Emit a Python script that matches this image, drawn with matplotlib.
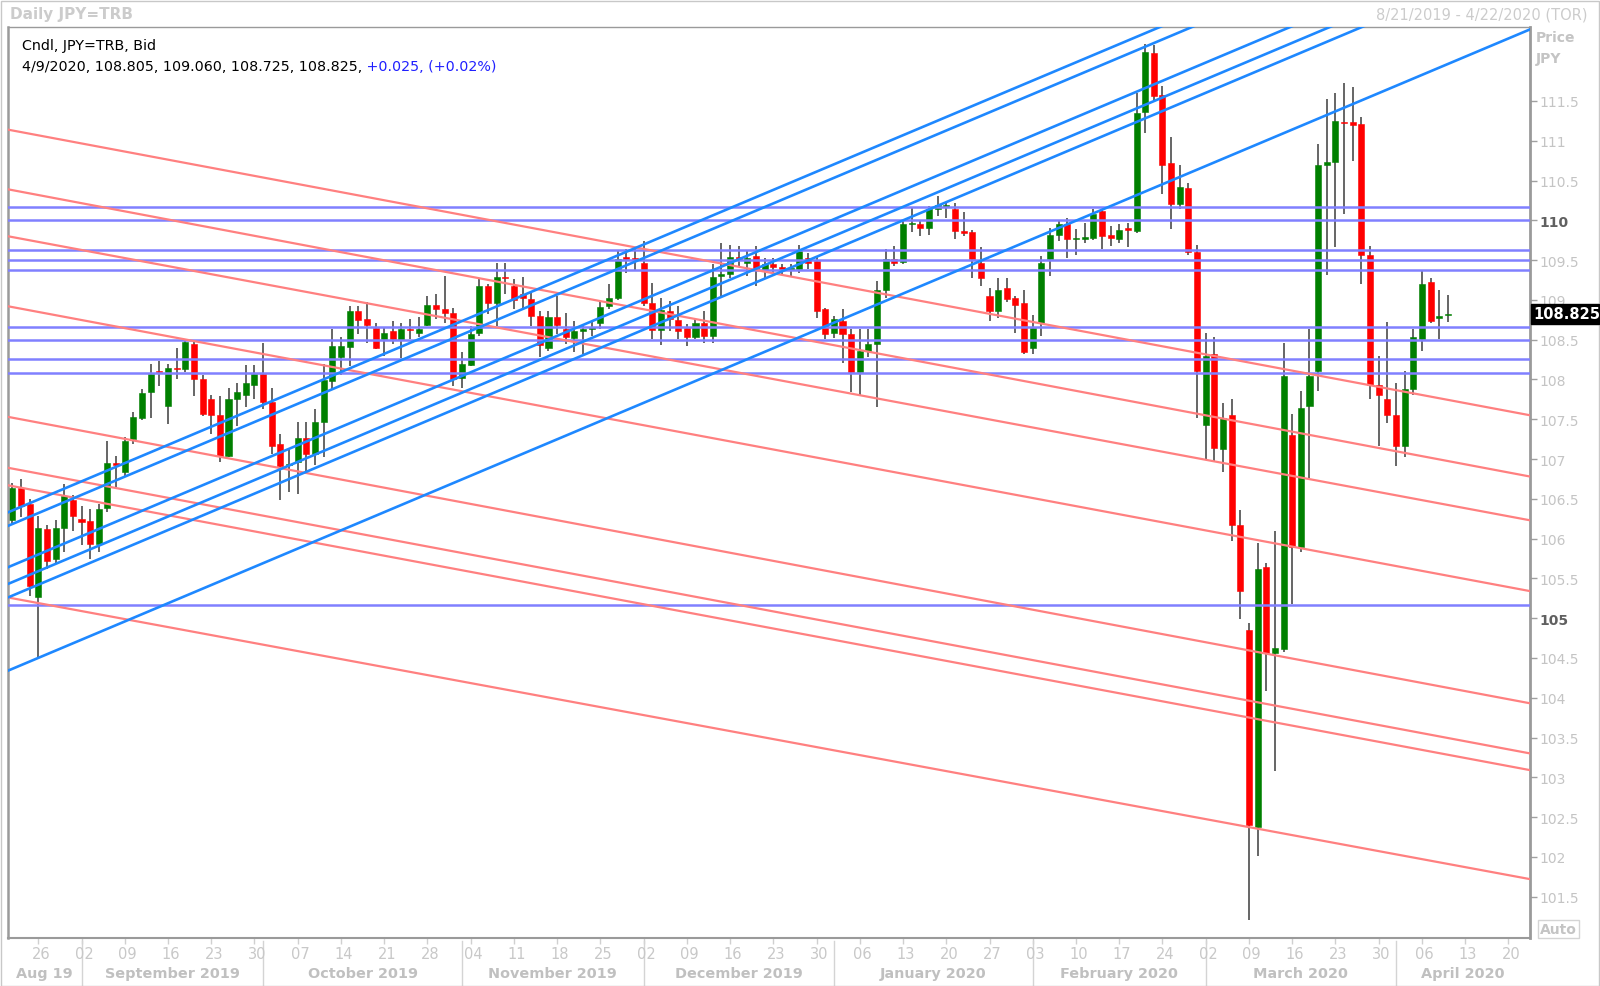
import numpy as np
import pandas as pd
import matplotlib
matplotlib.use("Agg")
import matplotlib.pyplot as plt
from matplotlib.patches import Rectangle
import matplotlib.transforms as mtrans

plt.rcParams['font.family'] = ['DejaVu Sans']

# ---- daily candles, JPY=TRB bid ----
dates = pd.bdate_range("2019-08-21", "2020-04-09")
o = [106.23, 106.63, 106.43, 105.26, 106.12, 105.74, 106.13, 106.49, 106.25, 106.22,
     105.93, 106.39, 106.95, 106.84, 107.25, 107.52, 107.84, 108.11, 107.67, 108.15,
     108.13, 108.45, 108.01, 107.76, 107.55, 107.04, 107.76, 107.81, 107.93, 108.07,
     107.72, 107.19, 106.92, 106.96, 107.26, 107.06, 107.46, 107.98, 108.28, 108.41,
     108.86, 108.76, 108.65, 108.51, 108.61, 108.50, 108.64, 108.58, 108.68, 108.94,
     108.89, 108.84, 108.02, 108.18, 108.58, 109.17, 108.96, 109.29, 109.17, 109.07,
     109.01, 108.80, 108.40, 108.78, 108.64, 108.52, 108.61, 108.64, 108.71, 108.92,
     109.03, 109.54, 109.53, 109.47, 108.96, 108.62, 108.86, 108.75, 108.65, 108.54,
     108.71, 108.55, 109.30, 109.33, 109.54, 109.47, 109.55, 109.38, 109.45, 109.41,
     109.38, 109.39, 109.53, 109.49, 108.88, 108.59, 108.73, 108.57, 108.09, 108.36,
     108.45, 109.13, 109.52, 109.48, 109.95, 109.95, 109.90, 110.14, 110.17, 110.14,
     109.87, 109.85, 109.47, 109.05, 108.86, 109.15, 109.02, 108.96, 108.39, 108.71,
     109.51, 109.82, 109.96, 109.76, 109.77, 109.78, 110.12, 109.81, 109.77, 109.90,
     109.87, 111.36, 112.10, 111.57, 110.72, 110.21, 110.41, 109.60, 107.43, 108.32,
     107.12, 107.55, 106.17, 104.85, 102.38, 105.64, 104.56, 104.61, 107.30, 105.89,
     107.67, 108.11, 110.70, 110.73, 111.24, 111.23, 111.21, 109.57, 107.93, 107.76,
     107.55, 107.16, 107.88, 108.51, 109.22, 108.77, 108.805]
h = [106.70, 106.75, 106.50, 106.29, 106.17, 106.23, 106.68, 106.55, 106.41, 106.37,
     106.44, 107.23, 107.04, 107.28, 107.59, 107.88, 108.19, 108.23, 108.19, 108.39,
     108.50, 108.47, 108.05, 107.80, 107.79, 107.89, 107.96, 108.18, 108.18, 108.46,
     107.89, 107.31, 107.12, 107.46, 107.46, 107.63, 108.19, 108.63, 108.53, 108.92,
     108.92, 108.97, 108.71, 108.65, 108.73, 108.71, 108.76, 108.78, 109.05, 109.08,
     109.30, 108.90, 108.34, 108.67, 109.26, 109.20, 109.47, 109.47, 109.26, 109.29,
     109.09, 108.86, 108.86, 109.05, 108.84, 108.73, 108.70, 108.74, 108.97, 109.20,
     109.61, 109.64, 109.66, 109.74, 109.21, 109.02, 108.99, 108.92, 108.70, 108.77,
     108.86, 109.45, 109.71, 109.69, 109.68, 109.61, 109.68, 109.53, 109.53, 109.45,
     109.45, 109.69, 109.59, 109.55, 108.90, 108.80, 108.88, 108.63, 108.63, 108.63,
     109.24, 109.64, 109.68, 110.01, 110.16, 110.01, 110.18, 110.31, 110.22, 110.22,
     110.10, 109.88, 109.66, 109.15, 109.27, 109.27, 109.05, 109.13, 108.81, 109.55,
     109.90, 110.01, 110.03, 109.89, 109.97, 110.14, 110.14, 109.93, 109.95, 109.97,
     111.60, 112.22, 112.20, 111.69, 111.05, 110.70, 110.47, 109.69, 108.58, 108.53,
     107.71, 107.76, 106.36, 104.94, 105.95, 105.69, 106.09, 108.46, 107.57, 107.86,
     108.64, 110.96, 111.53, 111.60, 111.73, 111.68, 111.30, 109.68, 108.30, 108.72,
     107.95, 108.11, 108.64, 109.36, 109.27, 109.12, 109.06]
l = [106.18, 106.27, 105.28, 104.49, 105.62, 105.68, 105.83, 106.10, 105.92, 105.74,
     105.83, 106.33, 106.65, 106.77, 107.19, 107.49, 107.52, 107.92, 107.44, 108.01,
     108.09, 107.79, 107.54, 107.31, 106.96, 107.02, 107.42, 107.66, 107.75, 107.63,
     107.06, 106.49, 106.58, 106.56, 106.85, 106.92, 107.03, 107.88, 108.05, 108.17,
     108.57, 108.46, 108.38, 108.30, 108.44, 108.27, 108.51, 108.53, 108.67, 108.76,
     108.71, 107.92, 107.89, 108.17, 108.55, 108.82, 108.67, 109.07, 108.88, 108.90,
     108.67, 108.28, 108.36, 108.57, 108.45, 108.35, 108.32, 108.55, 108.63, 108.88,
     109.00, 109.34, 109.38, 108.92, 108.51, 108.43, 108.61, 108.51, 108.42, 108.51,
     108.46, 108.46, 109.05, 109.28, 109.41, 109.30, 109.17, 109.28, 109.30, 109.32,
     109.30, 109.34, 109.39, 108.77, 108.51, 108.52, 108.21, 107.84, 107.79, 108.28,
     107.65, 109.02, 109.43, 109.45, 109.85, 109.80, 109.82, 110.05, 110.03, 109.76,
     109.80, 109.27, 109.17, 108.73, 108.77, 108.97, 108.58, 108.32, 108.32, 108.55,
     109.30, 109.74, 109.53, 109.56, 109.72, 109.75, 109.64, 109.68, 109.72, 109.66,
     109.84, 111.10, 111.50, 110.33, 109.89, 110.14, 109.56, 107.51, 107.00, 106.96,
     106.84, 105.97, 104.99, 101.20, 102.01, 104.09, 103.08, 104.58, 105.18, 105.83,
     106.75, 107.86, 109.31, 109.66, 110.08, 110.75, 109.20, 107.76, 107.16, 107.45,
     106.91, 107.02, 107.81, 108.36, 108.71, 108.51, 108.725]
c = [106.63, 106.41, 105.40, 106.13, 105.72, 106.13, 106.54, 106.29, 106.21, 105.93,
     106.37, 106.95, 106.92, 107.23, 107.53, 107.83, 108.07, 108.09, 108.15, 108.13,
     108.47, 108.01, 107.56, 107.55, 107.04, 107.76, 107.84, 107.95, 108.07, 107.72,
     107.16, 106.91, 106.93, 107.26, 107.06, 107.46, 107.99, 108.42, 108.42, 108.86,
     108.75, 108.69, 108.40, 108.59, 108.51, 108.64, 108.62, 108.64, 108.94, 108.89,
     108.84, 108.01, 108.19, 108.57, 109.17, 108.96, 109.29, 109.27, 109.00, 109.02,
     108.80, 108.43, 108.78, 108.68, 108.53, 108.61, 108.63, 108.65, 108.91, 109.03,
     109.52, 109.51, 109.50, 108.96, 108.62, 108.87, 108.76, 108.61, 108.54, 108.71,
     108.55, 109.29, 109.33, 109.54, 109.51, 109.53, 109.39, 109.45, 109.41, 109.38,
     109.39, 109.61, 109.47, 108.86, 108.57, 108.76, 108.57, 108.09, 108.36, 108.44,
     109.12, 109.52, 109.47, 109.95, 109.97, 109.90, 110.14, 110.19, 110.18, 109.87,
     109.84, 109.51, 109.28, 108.86, 109.13, 109.01, 108.93, 108.34, 108.65, 109.47,
     109.82, 109.96, 109.77, 109.78, 109.78, 110.08, 109.80, 109.78, 109.88, 109.88,
     111.35, 112.11, 111.56, 110.70, 110.21, 110.42, 109.60, 108.11, 108.29, 107.14,
     107.51, 106.17, 105.34, 102.40, 105.62, 104.56, 104.63, 108.04, 105.90, 107.64,
     108.04, 110.70, 110.73, 111.25, 111.22, 111.20, 109.57, 107.93, 107.81, 107.55,
     107.16, 107.88, 108.53, 109.20, 108.74, 108.80, 108.825]

# ---- drawn studies ----
h_levels = [110.17, 110.00, 109.63, 109.50, 109.37, 108.66, 108.50, 108.26, 108.08, 105.17]
red_left = [111.14, 110.39, 109.80, 108.92, 107.53, 106.89, 106.67, 105.26]
red_right = [107.55, 106.78, 106.23, 105.34, 103.93, 103.30, 103.09, 101.72]
blue_left = [106.33, 106.16, 105.64, 105.43, 105.26, 104.34]
blue_right = [114.39, 114.22, 113.70, 113.49, 113.32, 112.40]

end_date = pd.Timestamp("2020-04-22")
all_days = pd.bdate_range(dates[0], end_date)
n_all = len(all_days)
x0, x1 = -0.5, n_all - 0.5

W, H = 1600, 987
fig = plt.figure(figsize=(W / 100, H / 100), dpi=100)
ax = fig.add_axes([8 / W, 1 - 939 / H, (1530 - 8) / W, (939 - 28) / H])

idx = np.arange(len(dates))
o = np.array(o); h = np.array(h); l = np.array(l); c = np.array(c)
up = c >= o
cols = np.where(up, '#008000', '#ff0000')
bottoms = np.minimum(o, c)
heights = np.maximum(np.abs(c - o), 0.018)

ax.vlines(idx, l, h, color='#3c3c3c', lw=1.1, zorder=2)
ax.bar(idx, heights, bottom=bottoms, width=0.7, color=cols, edgecolor=cols,
       linewidth=0.4, zorder=2.5)

for lv in h_levels:
    ax.axhline(lv, color='#8080ff', lw=1.8, zorder=3)
for a, b in zip(red_left, red_right):
    ax.plot([x0, x1], [a, b], color='#ff8080', lw=1.6, zorder=3.2)
for a, b in zip(blue_left, blue_right):
    ax.plot([x0, x1], [a, b], color='#1e88ff', lw=1.9, zorder=3.4)

ax.set_xlim(x0, x1)
ax.set_ylim(100.98, 112.43)

# right price axis
ax.yaxis.tick_right()
yt = np.arange(101.5, 111.6, 0.5)
ax.set_yticks(yt)
ax.set_yticklabels([f'{v:g}' for v in yt])
ax.tick_params(axis='y', length=5, width=1, color='#a0a0a0', pad=2,
               labelsize=10, labelcolor='#c4c4c4')
for t, v in zip(ax.get_yticklabels(), yt):
    if v in (105.0, 110.0):
        t.set_fontweight('bold')
        t.set_color('#606060')

# bottom date axis
mondays = [i for i, d in enumerate(all_days) if d.weekday() == 0]
ax.set_xticks(mondays)
ax.set_xticklabels([])
ax.tick_params(axis='x', length=4, width=1, color='#d0d0d0')
trans = mtrans.blended_transform_factory(ax.transData, ax.transAxes)
for i in mondays:
    ax.text(i + 0.3, -0.0165, all_days[i].strftime('%d'), transform=trans, ha='center',
            va='center', fontsize=10.5, color='#c8c8c8',
            family=['Liberation Sans Narrow', 'DejaVu Sans'])

month_starts = [i for i in range(1, n_all) if all_days[i].month != all_days[i - 1].month]
bounds = [x0] + month_starts + [x1]
month_names = ['Aug 19', 'September 2019', 'October 2019', 'November 2019',
               'December 2019', 'January 2020', 'February 2020', 'March 2020', 'April 2020']
for k, name in enumerate(month_names):
    mid = (bounds[k] + bounds[k + 1]) / 2
    ax.text(mid, -0.038, name, transform=trans, ha='center', va='center',
            fontsize=10.4, fontweight='bold', color='#c0c0c0')
for i in month_starts:
    ax.plot([i, i], [-0.003, -0.053], transform=trans, color='#d4d4d4', lw=1, clip_on=False)

for side in ['top', 'left', 'bottom', 'right']:
    ax.spines[side].set_color('#9a9a9a')
ax.spines['left'].set_linewidth(1.8)
ax.spines['bottom'].set_linewidth(1.5)
ax.spines['right'].set_linewidth(2)
ax.spines['top'].set_linewidth(1)

# header inside the plot
t1 = ax.text(14 / 1522, 1 - 18 / 911, 'Cndl, JPY=TRB, Bid', transform=ax.transAxes,
             fontsize=10.3, va='center', ha='left', color='black')
t2 = ax.text(14 / 1522, 1 - 39 / 911, '4/9/2020, 108.805, 109.060, 108.725, 108.825,',
             transform=ax.transAxes, fontsize=10.3, va='center', ha='left', color='black')
ax.annotate(' +0.025, (+0.02%)', xy=(1, 0.5), xycoords=t2, va='center', ha='left',
            fontsize=10.3, color='#2020ff')

# figure decorations
fig.text(10 / W, 1 - 15 / H, 'Daily JPY=TRB', fontsize=11, fontweight='bold',
         color='#cccccc', va='center', ha='left')
fig.text(1588 / W, 1 - 15 / H, '8/21/2019 - 4/22/2020 (TOR)', fontsize=10.5,
         color='#cccccc', va='center', ha='right')
fig.text(1536 / W, 1 - 38 / H, 'Price', fontsize=10, fontweight='bold',
         color='#c4c4c4', va='center', ha='left')
fig.text(1536 / W, 1 - 59 / H, 'JPY', fontsize=10, fontweight='bold',
         color='#c4c4c4', va='center', ha='left')
fig.text(1540 / W, 1 - 930 / H, 'Auto', fontsize=10, fontweight='bold', color='#c4c4c4',
         va='center', ha='left',
         bbox=dict(boxstyle='square,pad=0.15', fc='white', ec='#d4d4d4', lw=1))

last = c[-1]
yfrac = ax.transAxes.inverted().transform(ax.transData.transform((0, last)))[1]
ypix = 939 - yfrac * 911
fig.patches.append(Rectangle((1531 / W, 1 - (ypix + 10) / H), 68 / W, 20 / H,
                             transform=fig.transFigure, fc='black', ec='black', zorder=5))
fig.text(1533 / W, 1 - ypix / H, f'{last:.3f}', fontsize=10.5, fontweight='bold',
         color='white', va='center', ha='left', zorder=6)

fig.patches.append(Rectangle((0.5 / W, 0.5 / H), (W - 2) / W, (H - 2) / H,
                             transform=fig.transFigure, fill=False, ec='#c8c8c8', lw=1))

fig.savefig('out.png', dpi=100, facecolor='white')
